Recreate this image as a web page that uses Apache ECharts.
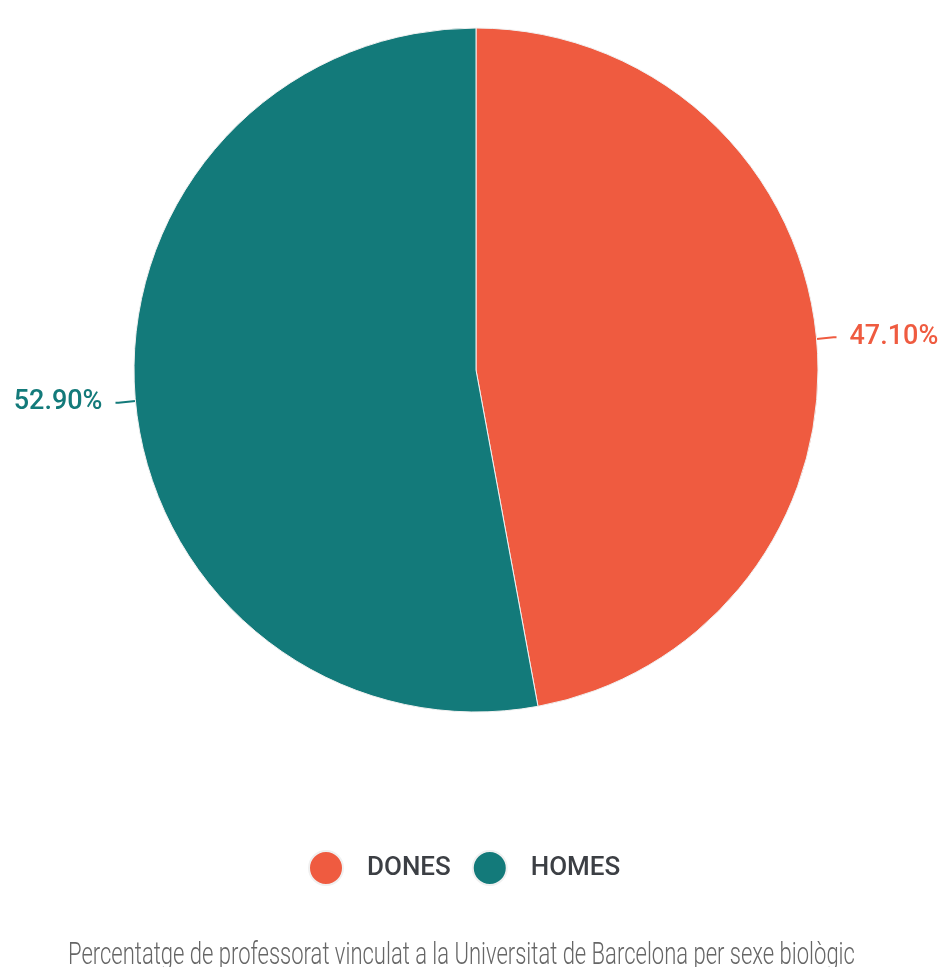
<!DOCTYPE html>
<html><head><meta charset="utf-8">
<script src="https://cdn.jsdelivr.net/npm/echarts@6/dist/echarts.min.js"></script>
<style>html,body{margin:0;padding:0;background:#fff}#c{width:947px;height:967px}</style>
</head><body><div id="c"></div>
<script>
const categories = ['DONES', 'HOMES'];
const values = [47.10, 52.90];
const colors = ['#EF5B40', '#137A7A'];
const caption = 'Percentatge de professorat vinculat a la Universitat de Barcelona per sexe biològic';

const chart = echarts.init(document.getElementById('c'), null, {renderer: 'canvas'});
chart.setOption({
  animation: false,
  color: colors,
  legend: {
    data: categories,
    bottom: 76,
    left: 303,
    icon: 'circle',
    itemWidth: 34,
    itemHeight: 34,
    itemGap: 21,
    textStyle: {fontFamily: 'Roboto', fontSize: 26, fontWeight: 500, color: '#3c3f44', padding: [0,0,0,19]}
  },
  graphic: [{
    type: 'text',
    left: 68,
    top: 940,
    scaleX: 0.688,
    style: {text: caption, font: '300 32px Roboto', fill: '#666666'}
  }],
  series: [{
    type: 'pie',
    center: [476, 370],
    radius: 342,
    startAngle: 90,
    clockwise: true,
    itemStyle: {borderColor: '#f0f0f0', borderWidth: 1},
    label: {
      show: true,
      overflow: 'none',
      formatter: p => p.value.toFixed(2) + '%',
      fontFamily: 'Roboto', fontSize: 27, fontWeight: 500,
      distanceToLabelLine: 13
    },
    labelLine: {show: true, length: 17, length2: 3, lineStyle: {width: 2}},
    emphasis: {disabled: true},
    data: categories.map((c, i) => ({name: c, value: values[i], label: {color: colors[i]}}))
  }]
});
</script></body></html>
